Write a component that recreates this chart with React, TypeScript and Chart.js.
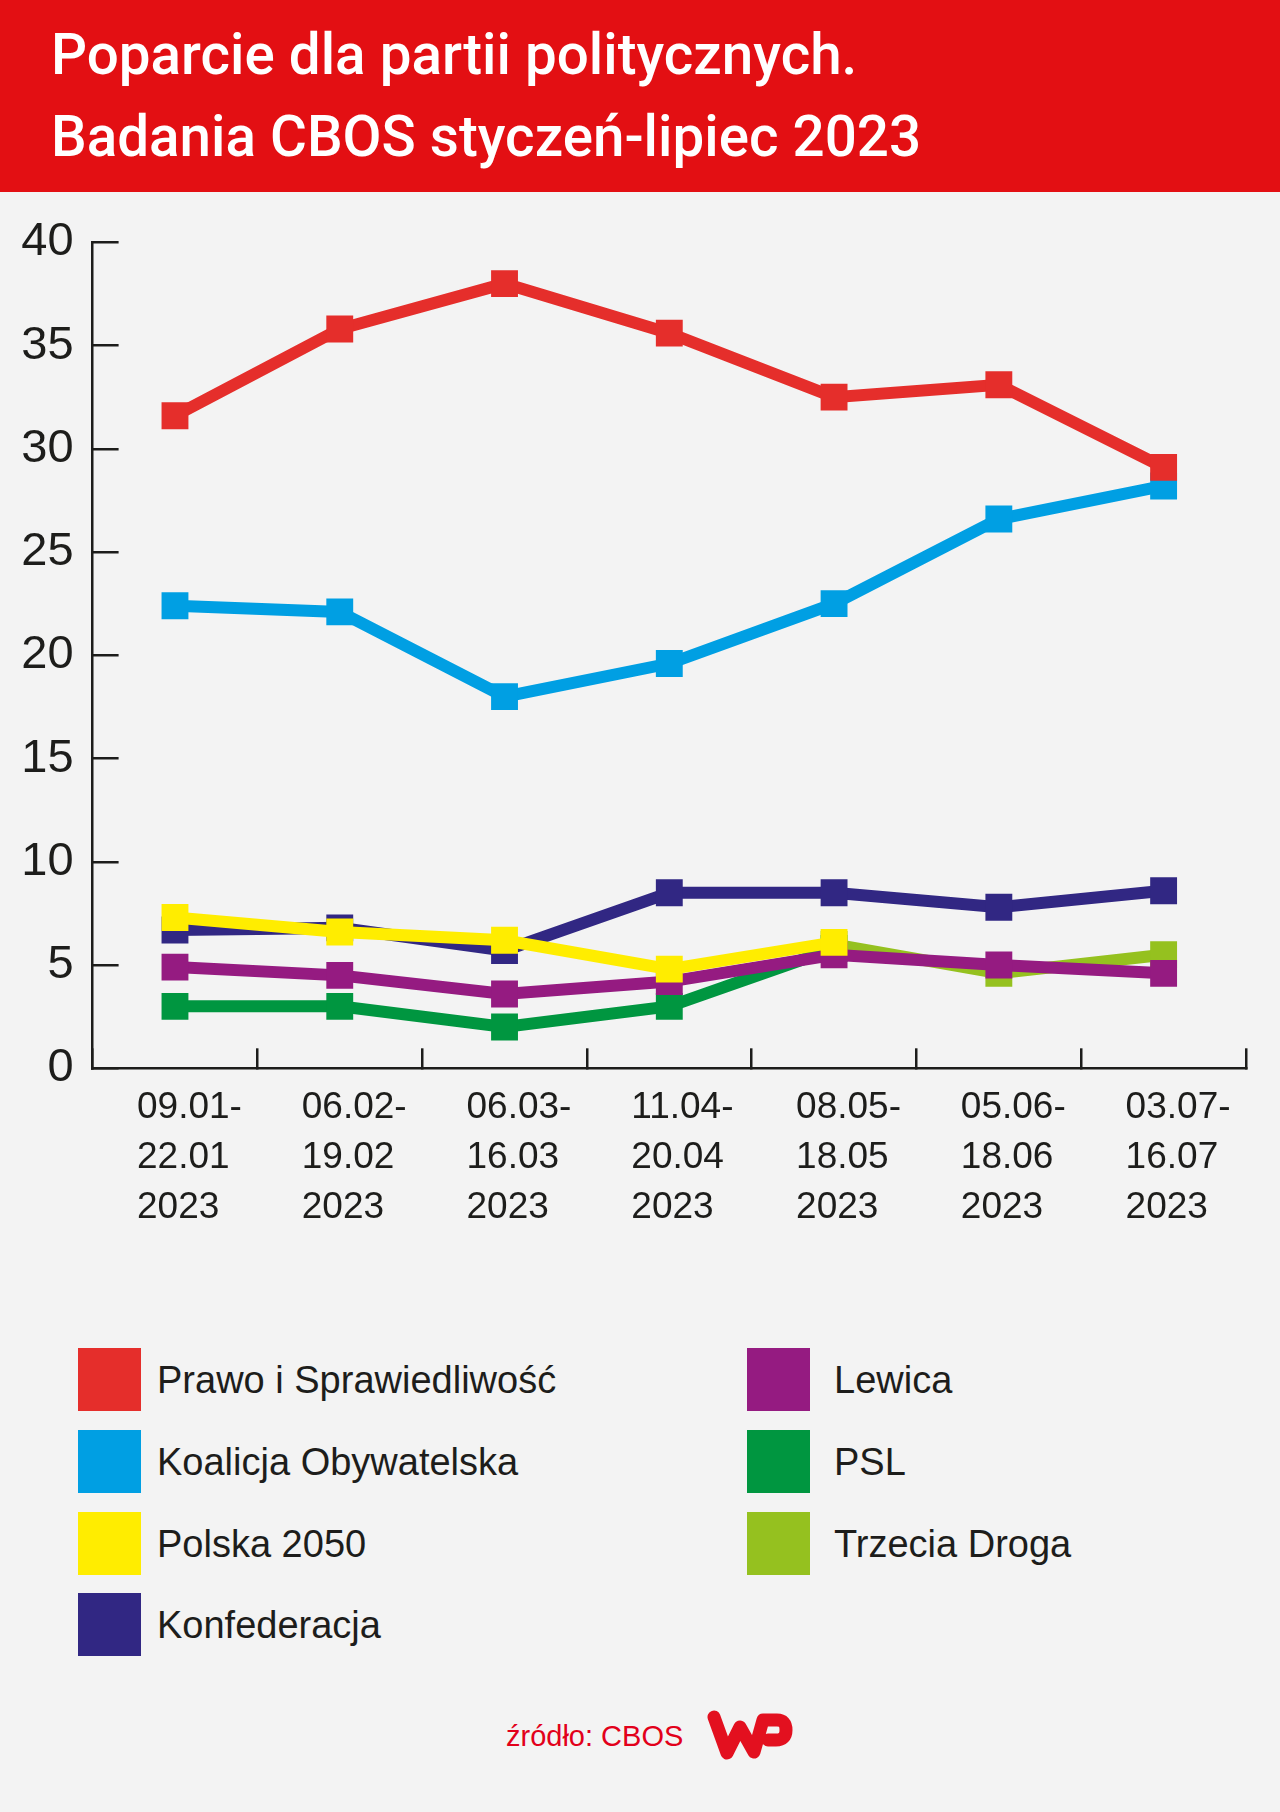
import React, { useEffect, useRef } from "react";
import { Chart, registerables } from "chart.js";

Chart.register(...registerables);

// ---- data ----
const periodStart = ["09.01-", "06.02-", "06.03-", "11.04-", "08.05-", "05.06-", "03.07-"];
const periodEnd = ["22.01", "19.02", "16.03", "20.04", "18.05", "18.06", "16.07"];
const periodYear = ["2023", "2023", "2023", "2023", "2023", "2023", "2023"];

const yTicksMin = 0;
const yTicksMax = 40;
const yTicksStep = 5;

const pis = [31.6, 35.8, 38.0, 35.6, 32.5, 33.1, 29.1];
const ko = [22.4, 22.1, 18.0, 19.6, 22.5, 26.6, 28.2];
const polska2050 = [7.3, 6.6, 6.2, 4.8, 6.1, null, null];
const konfederacja = [6.7, 6.8, 5.7, 8.5, 8.5, 7.8, 8.6];
const lewica = [4.9, 4.5, 3.6, 4.2, 5.5, 5.0, 4.6];
const psl = [3.0, 3.0, 2.0, 3.0, 5.8, null, null];
const trzeciaDroga = [null, null, null, null, 6.0, 4.6, 5.5];

const seriesNames = [
  "Prawo i Sprawiedliwość",
  "Koalicja Obywatelska",
  "Polska 2050",
  "Konfederacja",
  "Lewica",
  "PSL",
  "Trzecia Droga",
];
const seriesData = [pis, ko, polska2050, konfederacja, lewica, psl, trzeciaDroga];
const seriesColors = ["#e52e2b", "#009fe3", "#ffed00", "#312783", "#951b81", "#009640", "#95c11f"];
// lower = drawn on top
const seriesOrder = [0, 6, 1, 5, 2, 4, 3];

const titleLines = ["Poparcie dla partii politycznych.", "Badania CBOS styczeń-lipiec 2023"];
const sourceText = "źródło: CBOS";

const AXIS = "#1d1d1b";
const FONT = "'Liberation Sans', Arial, sans-serif";
const TITLE_FONT = "Roboto, 'Liberation Sans', sans-serif";

export default function App() {
  const canvasRef = useRef<HTMLCanvasElement | null>(null);

  useEffect(() => {
    document.body.style.margin = "0";
    document.body.style.background = "#f3f3f3";
    const canvas = canvasRef.current;
    if (!canvas) return;
    const labels = periodStart.map((s, i) => [s, periodEnd[i], periodYear[i]]);
    const chart = new Chart(canvas, {
      type: "line",
      data: {
        labels,
        datasets: seriesNames.map((name, i) => ({
          label: name,
          data: seriesData[i],
          borderColor: seriesColors[i],
          backgroundColor: seriesColors[i],
          pointBackgroundColor: seriesColors[i],
          pointBorderWidth: 0,
          pointStyle: "rect",
          pointRadius: 19,
          pointHoverRadius: 19,
          borderWidth: 12,
          borderJoinStyle: "miter",
          tension: 0,
          fill: false,
          spanGaps: false,
          order: seriesOrder[i],
        })),
      },
      options: {
        animation: false,
        responsive: false,
        maintainAspectRatio: false,
        devicePixelRatio: 1,
        layout: { padding: { top: 50.3, right: 34, left: 0, bottom: 0 } },
        plugins: {
          legend: { display: false },
          tooltip: { enabled: false },
        },
        scales: {
          x: {
            type: "category",
            offset: true,
            grid: {
              offset: true,
              drawOnChartArea: false,
              drawTicks: true,
              tickLength: -20,
              color: AXIS,
              lineWidth: 2.5,
            },
            border: { display: true, color: AXIS, width: 2.5 },
            ticks: {
              align: "start",
              labelOffset: -38,
              padding: 34,
              autoSkip: false,
              maxRotation: 0,
              minRotation: 0,
              color: AXIS,
              font: { family: FONT, size: 37, lineHeight: 50 / 37 },
            },
            afterFit: (s: any) => {
              s.height = 231.7;
              s.paddingLeft = 0;
              s.paddingRight = 0;
            },
          },
          y: {
            min: yTicksMin,
            max: yTicksMax,
            grid: {
              drawOnChartArea: false,
              drawTicks: true,
              tickLength: -26,
              color: AXIS,
              lineWidth: 2.5,
            },
            border: { display: true, color: AXIS, width: 2.5 },
            ticks: {
              stepSize: yTicksStep,
              padding: 45,
              color: AXIS,
              font: { family: FONT, size: 47 },
            },
            afterFit: (s: any) => {
              s.width = 92.6;
              s.paddingTop = 0;
              s.paddingBottom = 0;
            },
          },
        },
      },
    } as any);
    return () => chart.destroy();
  }, []);

  const leftCol = [0, 1, 2, 3];
  const rightCol = [4, 5, 6];
  const rowTops = [1348, 1430, 1512, 1593];

  const legendItem = (idx: number, row: number, swatchLeft: number, textLeft: number) => (
    <React.Fragment key={idx}>
      <div
        style={{
          position: "absolute",
          left: swatchLeft,
          top: rowTops[row],
          width: 63,
          height: 63,
          background: seriesColors[idx],
        }}
      />
      <div
        style={{
          position: "absolute",
          left: textLeft,
          top: rowTops[row] + 31.5 - 25,
          height: 50,
          lineHeight: "50px",
          fontFamily: FONT,
          fontSize: 38,
          color: AXIS,
          whiteSpace: "nowrap",
        }}
      >
        {seriesNames[idx]}
      </div>
    </React.Fragment>
  );

  return (
    <div
      style={{
        position: "relative",
        width: 1280,
        height: 1812,
        background: "#f3f3f3",
        overflow: "hidden",
      }}
    >
      <div
        style={{
          position: "absolute",
          left: 0,
          top: 0,
          width: 1280,
          height: 192,
          background: "#e30f13",
        }}
      >
        {titleLines.map((t, i) => (
          <div
            key={i}
            style={{
              position: "absolute",
              left: 51,
              top: 33 + i * 81.7 - 8,
              fontFamily: TITLE_FONT,
              fontWeight: 500,
              fontSize: 58,
              lineHeight: "58px",
              color: "#ffffff",
              whiteSpace: "nowrap",
              transform: "scaleX(0.975)",
              transformOrigin: "left center",
            }}
          >
            {t}
          </div>
        ))}
      </div>
      <canvas
        ref={canvasRef}
        width={1280}
        height={1108}
        style={{ position: "absolute", left: 0, top: 192, width: 1280, height: 1108 }}
      />
      {leftCol.map((idx, r) => legendItem(idx, r, 78, 157))}
      {rightCol.map((idx, r) => legendItem(idx, r, 747, 834))}
      <div
        style={{
          position: "absolute",
          left: 506,
          top: 1718,
          fontFamily: FONT,
          fontSize: 29,
          lineHeight: "36px",
          color: "#e2001a",
          whiteSpace: "nowrap",
        }}
      >
        {sourceText}
      </div>
      <svg
        style={{ position: "absolute", left: 705, top: 1710 }}
        width={90}
        height={52}
        viewBox="0 0 90 52"
      >
        <path
          d="M9 7 L22 43 L35 17 L49 42 L58 10 L72 10 Q81 10 81 20 Q81 30 71 30 L63 30"
          fill="none"
          stroke="#e3101f"
          strokeWidth={13}
          strokeLinecap="round"
          strokeLinejoin="round"
        />
      </svg>
    </div>
  );
}
